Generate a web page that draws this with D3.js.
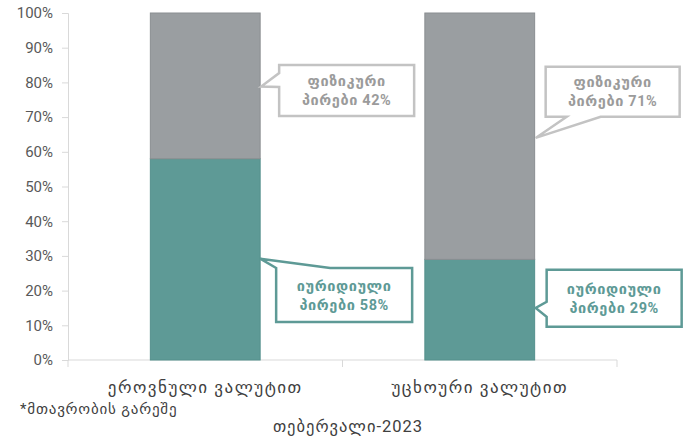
<!DOCTYPE html>
<html>
<head>
<meta charset="utf-8">
<script src="https://cdn.jsdelivr.net/npm/d3@7"></script>
<style>
  html, body { margin: 0; padding: 0; background: #fff; }
  svg { display: block; font-family: Roboto, "DejaVu Sans", sans-serif; }
</style>
</head>
<body>
<svg id="chart" width="689" height="441"></svg>
<script>
// Share of deposits by holder type, February 2023
const categories = ["ეროვნული ვალუტით", "უცხოური ვალუტით"];
const legalShare = [0.58, 0.29];      // იურიდიული პირები
const physicalShare = [0.42, 0.71];   // ფიზიკური პირები
const yTicks = [0, 0.1, 0.2, 0.3, 0.4, 0.5, 0.6, 0.7, 0.8, 0.9, 1.0];
const footnote = "*მთავრობის გარეშე";
const periodLabel = "თებერვალი-2023";

const green = "#5e9a96";
const grey = "#9a9ea1";

const svg = d3.select("#chart");
const plot = { left: 68, right: 617, top: 13, bottom: 360 };

const x = d3.scaleBand()
  .domain(categories)
  .range([plot.left, plot.right])
  .paddingInner(0.6)
  .paddingOuter(0.3);

const y = d3.scaleLinear().domain([0, 1]).range([plot.bottom, plot.top]);

// y axis
const yAxis = d3.axisLeft(y)
  .tickValues(yTicks)
  .tickFormat(d3.format(".0%"))
  .tickSize(6)
  .tickPadding(9);
const gy = svg.append("g").attr("transform", `translate(${plot.left},0)`).call(yAxis);
gy.select(".domain").attr("stroke", "#d9d9d9");
gy.selectAll(".tick line").attr("stroke", "#d9d9d9");
gy.selectAll(".tick text")
  .attr("fill", "#595959")
  .style("font-size", "15px")
  .style("font-family", "Roboto, sans-serif");

// x axis line with ticks at category boundaries
const step = x.step();
svg.append("line")
  .attr("x1", plot.left).attr("x2", plot.right)
  .attr("y1", plot.bottom).attr("y2", plot.bottom)
  .attr("stroke", "#d9d9d9");
const boundaries = [plot.left].concat(categories.map(c => x(c) + x.bandwidth() + step * x.paddingInner() / 2));
svg.selectAll(".xb").data(boundaries).enter().append("line")
  .attr("x1", d => d).attr("x2", d => d)
  .attr("y1", plot.bottom).attr("y2", plot.bottom + 7)
  .attr("stroke", "#d9d9d9");

svg.selectAll(".xlab").data(categories).enter().append("text")
  .attr("x", d => x(d) + x.bandwidth() / 2)
  .attr("y", 393)
  .attr("text-anchor", "middle")
  .attr("fill", "#404040")
  .style("font-size", "17px")
  .style("letter-spacing", "1.5px")
  .text(d => d);

// stacked bars
const rows = categories.map((c, i) => ({ cat: c, legal: legalShare[i], physical: physicalShare[i] }));
const stack = d3.stack().keys(["legal", "physical"])(rows);
const colors = { legal: green, physical: grey };
const strokes = { legal: "#54908c", physical: "#8a8e91" };

stack.forEach(layer => {
  svg.append("g").selectAll("rect").data(layer).enter().append("rect")
    .attr("x", d => x(d.data.cat))
    .attr("width", x.bandwidth())
    .attr("y", d => y(d[1]))
    .attr("height", d => y(d[0]) - y(d[1]))
    .attr("fill", colors[layer.key])
    .attr("stroke", strokes[layer.key])
    .attr("stroke-width", 1);
});

// callouts: box placed beside each bar, pointer tip on the bar edge
function callout(opts) {
  const g = svg.append("g");
  const { bx, by, bw, bh, tip, base, color, lines } = opts;
  const pts = [];
  const L = bx, R = bx + bw, T = by, B = by + bh;
  if (base.side === "left") {
    pts.push([L, T], [R, T], [R, B], [L, B], [L, base.b], tip, [L, base.a]);
  } else if (base.side === "top") {
    pts.push([L, T], tip, [base.a, T], [R, T], [R, B], [L, B]);
  } else if (base.side === "bottom") {
    pts.push([L, T], [R, T], [R, B], [base.b, B], tip, [base.a, B], [L, B]);
  }
  g.append("path")
    .attr("d", d3.line()(pts) + "Z")
    .attr("fill", "#fff")
    .attr("stroke", color)
    .attr("stroke-width", 2.5)
    .attr("stroke-linejoin", "miter");
  lines.forEach((t, i) => {
    g.append("text")
      .attr("x", bx + bw / 2)
      .attr("y", by + bh / 2 + (i - (lines.length - 1) / 2) * 19 + 5)
      .attr("text-anchor", "middle")
      .attr("fill", opts.textColor)
      .style("font-size", "14.5px")
      .style("font-weight", "bold")
      .style("letter-spacing", "0.6px")
      .text(t);
  });
}

const fmt = d3.format(".0%");
const bar0R = x(categories[0]) + x.bandwidth();
const bar1R = x(categories[1]) + x.bandwidth();

// physical persons, first bar
callout({
  bx: bar0R + 19, by: y(0.85), bw: 135, bh: 51,
  tip: [bar0R + 1, y(0.788)],
  base: { side: "left", a: y(0.85) + 8, b: y(0.85) + 22 },
  color: "#c3c3c3", textColor: "#9b9b9b",
  lines: ["ფიზიკური", "პირები " + fmt(physicalShare[0])]
});

// legal persons, first bar
callout({
  bx: bar0R + 16, by: y(0.265), bw: 136, bh: 54,
  tip: [bar0R, y(0.292)],
  base: { side: "top", a: bar0R + 70 },
  color: green, textColor: green,
  lines: ["იურიდიული", "პირები " + fmt(legalShare[0])]
});

// physical persons, second bar
callout({
  bx: bar1R + 11, by: y(0.845), bw: 134, bh: 50,
  tip: [bar1R + 1, y(0.64)],
  base: { side: "bottom", a: bar1R + 32, b: bar1R + 66 },
  color: "#c3c3c3", textColor: "#9b9b9b",
  lines: ["ფიზიკური", "პირები " + fmt(physicalShare[1])]
});

// legal persons, second bar
callout({
  bx: bar1R + 12, by: y(0.26), bw: 135, bh: 57,
  tip: [bar1R + 1, y(0.15)],
  base: { side: "left", a: y(0.26) + 32, b: y(0.26) + 47 },
  color: green, textColor: green,
  lines: ["იურიდიული", "პირები " + fmt(legalShare[1])]
});

// footnote and period
svg.append("text")
  .attr("x", 20).attr("y", 414)
  .attr("fill", "#404040")
  .style("font-size", "15px")
  .style("letter-spacing", "0.8px")
  .text(footnote);

svg.append("text")
  .attr("x", 348).attr("y", 432)
  .attr("text-anchor", "middle")
  .attr("fill", "#404040")
  .style("font-size", "16.5px")
  .style("letter-spacing", "1px")
  .text(periodLabel);
</script>
</body>
</html>
